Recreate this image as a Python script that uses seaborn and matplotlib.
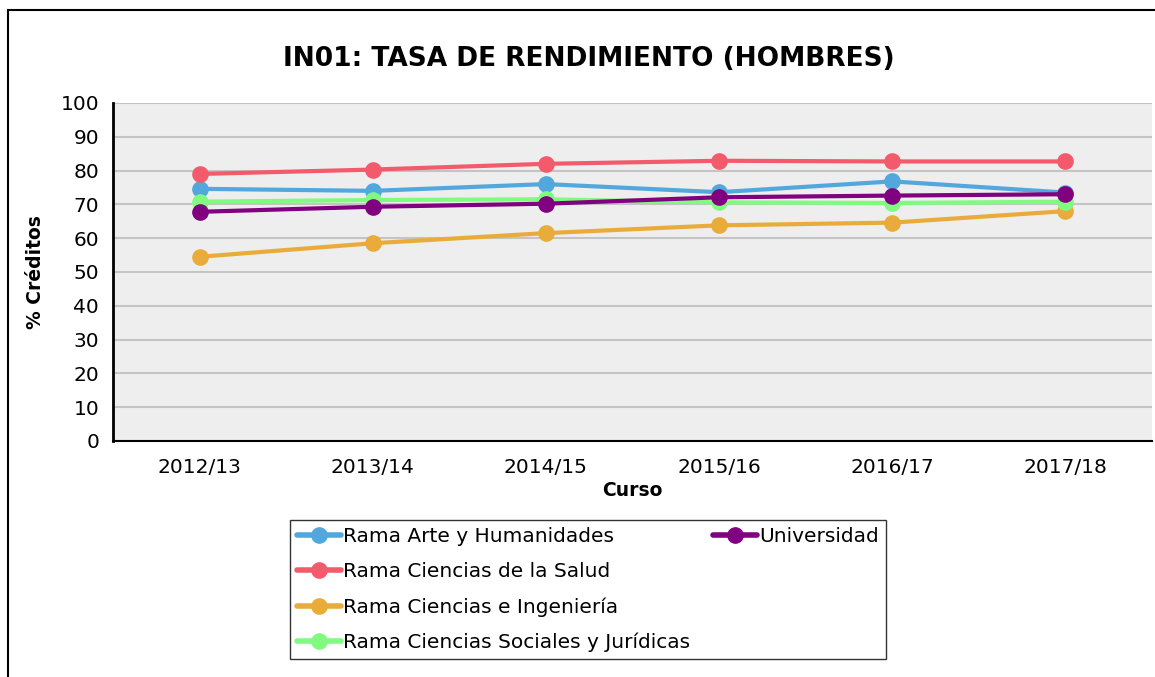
import pandas as pd
import matplotlib.pyplot as plt
import seaborn as sns
from matplotlib.lines import Line2D
from matplotlib.patches import Rectangle

cursos = ['2012/13', '2013/14', '2014/15', '2015/16', '2016/17', '2017/18']
arte = [74.6, 74.0, 76.0, 73.6, 76.8, 73.5]
salud = [79.0, 80.3, 82.0, 82.9, 82.7, 82.7]
ingenieria = [54.5, 58.5, 61.5, 63.8, 64.6, 68.0]
sociales = [70.8, 71.3, 71.5, 70.6, 70.4, 70.8]
universidad = [67.8, 69.3, 70.2, 72.1, 72.6, 73.0]

series = ['Rama Arte y Humanidades', 'Rama Ciencias de la Salud',
          'Rama Ciencias e Ingeniería', 'Rama Ciencias Sociales y Jurídicas',
          'Universidad']
colors = ['#52A8DC', '#F35B6C', '#E9AC3B', '#80FB80', '#800080']

df = pd.DataFrame({
    'curso': cursos * 5,
    'valor': arte + salud + ingenieria + sociales + universidad,
    'serie': [s for s in series for _ in cursos],
})
df['x'] = list(range(len(cursos))) * 5

sns.set_style('white')
plt.rcParams['font.family'] = ['DejaVu Sans']
plt.rcParams['text.color'] = 'black'
plt.rcParams['axes.labelcolor'] = 'black'

fig = plt.figure(figsize=(11.55, 6.77), dpi=100)
ax = fig.add_axes([0.0978, 0.3486, 0.8996, 0.4993])
ax.set_facecolor('#EDEEED')

sns.lineplot(data=df, x='x', y='valor', hue='serie', hue_order=series,
             palette=colors, marker='o', markersize=12, markeredgewidth=0,
             linewidth=3, ax=ax, legend=False)

ax.set_xlim(-0.5, 5.5)
ax.set_ylim(0, 100)
ax.set_yticks(range(0, 101, 10))
ax.set_xticks(range(len(cursos)))
ax.set_xticklabels(cursos)
ax.set_xticks([i - 0.5 for i in range(len(cursos) + 1)], minor=True)
ax.grid(axis='y', color='#C4C4C4', linewidth=1.5)
ax.set_axisbelow(True)
ax.tick_params(axis='x', which='major', length=0, labelsize=14.5, pad=12,
               labelcolor='black')
ax.tick_params(axis='x', which='minor', length=8, width=1.2, color='#B0B0B0')
ax.tick_params(axis='y', length=7, width=1.5, color='#C4C4C4', labelsize=14.5,
               pad=3, labelcolor='black')

for side in ['top', 'right']:
    ax.spines[side].set_visible(False)
ax.spines['left'].set_color('black')
ax.spines['left'].set_linewidth(2)
ax.spines['bottom'].set_color('black')
ax.spines['bottom'].set_linewidth(1.5)

ax.set_xlabel('Curso', fontsize=13.5, fontweight='bold', labelpad=3)
ax.set_ylabel('% Créditos', fontsize=13.5, fontweight='bold', labelpad=11)

fig.text(0.51, 0.913, 'IN01: TASA DE RENDIMIENTO (HOMBRES)', ha='center',
         va='center', fontsize=19, fontweight='bold')

# outer border
fig.patches.append(Rectangle((8 / 1155, -0.5), 2, 1.5 - 10 / 677,
                             transform=fig.transFigure, fill=False,
                             edgecolor='black', linewidth=1.5))

handles = [Line2D([], [], color=c, marker='o', markersize=11, linewidth=4)
           for c in colors]
blank = Line2D([], [], linestyle='none')
leg_handles = handles[:4] + [handles[4], blank, blank, blank]
leg_labels = series[:4] + [series[4], '', '', '']
leg = fig.legend(leg_handles, leg_labels, ncol=2, loc='upper center',
                 bbox_to_anchor=(0.509, 1 - 520 / 677), borderaxespad=0,
                 fontsize=14.5, frameon=True, fancybox=False,
                 edgecolor='black', handlelength=2.2, handletextpad=0.1,
                 labelspacing=0.8, columnspacing=1.1, borderpad=0.35)
leg.get_frame().set_linewidth(1)

fig.savefig('out.png', dpi=100)
